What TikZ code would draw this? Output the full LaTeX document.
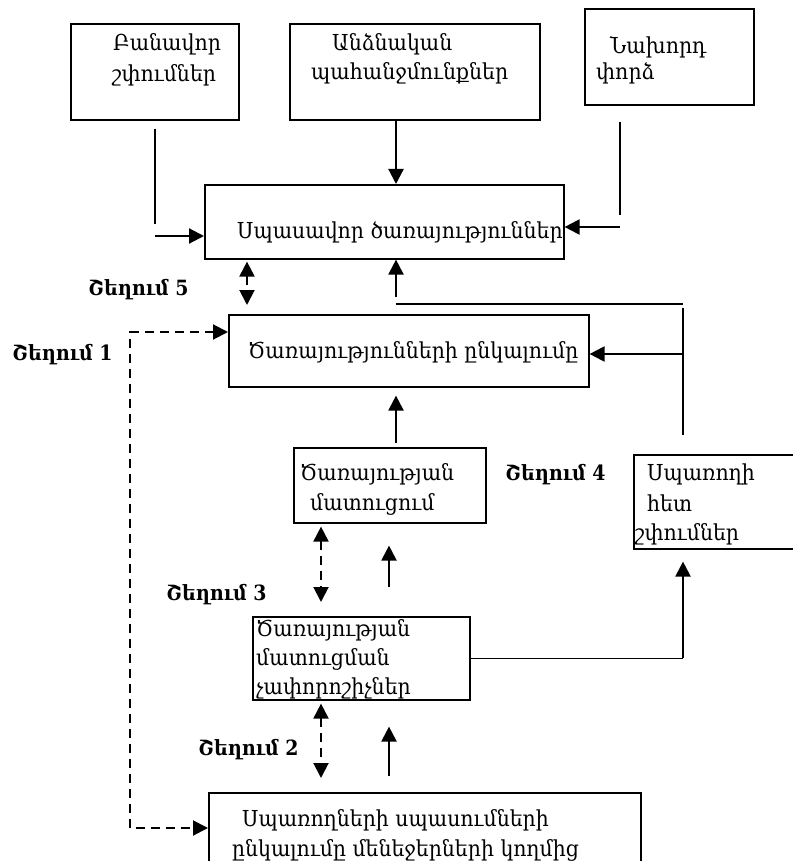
\documentclass[tikz,border=0pt]{standalone}
\usepackage{fontspec}
\setmainfont{DejaVu Serif}[FakeStretch=0.93]
\newfontfamily\lblfont{DejaVu Serif Condensed}
\usetikzlibrary{arrows.meta,calc}

\tikzset{
  box/.style={draw, line width=1.6pt, inner sep=0pt, anchor=north west},
  txt/.style={anchor=base west, inner sep=0pt, font=\fontsize{22}{26}\selectfont},
  lbl/.style={anchor=base west, inner sep=0pt, font=\lblfont\bfseries\fontsize{21}{25}\selectfont},
  link/.style={line width=1.6pt},
  thick link/.style={line width=2.2pt},
  arr/.style={line width=2.2pt, -{Triangle[length=15pt,width=15pt]}},
  darr/.style={line width=2pt, dash pattern=on 9pt off 6pt,
    {Triangle[length=15pt,width=15pt]}-{Triangle[length=15pt,width=15pt]}},
}

\begin{document}
\begin{tikzpicture}[x=1pt,y=-1pt]
\useasboundingbox (0,0) rectangle (792,861);

% ---- boxes ----
\node[box, minimum width=168pt, minimum height=96pt] (A) at (70,23) {};
\node[box, minimum width=250pt, minimum height=96pt] (B) at (289,23) {};
\node[box, minimum width=169pt, minimum height=96pt] (C) at (584,8) {};
\node[box, minimum width=359pt, minimum height=74pt] (D) at (204,184) {};
\node[box, minimum width=360pt, minimum height=72pt] (E) at (228,314) {};
\node[box, minimum width=192pt, minimum height=75pt] (F) at (293,447) {};
\node[box, minimum width=170pt, minimum height=94pt] (G) at (633,454) {};
\node[box, minimum width=217pt, minimum height=83pt] (H) at (252,616) {};
\node[box, minimum width=432pt, minimum height=80pt] (I) at (208,792) {};

% ---- box texts ----
\node[txt] (a1) at (113,51) {Բանավոր};
\node[txt] (a2) at (112,82) {շփումներ};
\node[txt] (b1) at (332,51) {Անձնական};
\node[txt] (b2) at (311,80) {պահանջմունքներ};
\node[txt] (c1) at (610,54) {Նախորդ};
\node[txt] (c2) at (596,80) {փորձ};
\node[txt] (d1) at (237,238) {Սպասավոր ծառայություններ};
\node[txt] (e1) at (248,358) {Ծառայությունների ընկալումը};
\node[txt] (f1) at (300,480) {Ծառայության};
\node[txt] (f2) at (310,510) {մատուցում};
\node[txt] (g1) at (647,480) {Սպառողի};
\node[txt] (g2) at (647,511) {հետ};
\node[txt] (g3) at (635,540) {շփումներ};
\node[txt] (h1) at (256,636) {Ծառայության};
\node[txt] (h2) at (256,665) {մատուցման};
\node[txt] (h3) at (256,694) {չափորոշիչներ};
\node[txt] (i1) at (242,826) {Սպառողների սպասումների};
\node[txt] (i2) at (232,856) {ընկալումը մենեջերների կողմից};

% ---- deviation labels ----
\node[lbl] (s5) at (88,295) {Շեղում 5};
\node[lbl] (s1) at (12,360) {Շեղում 1};
\node[lbl] (s4) at (505,480) {Շեղում 4};
\node[lbl] (s3) at (166,600) {Շեղում 3};
\node[lbl] (s2) at (198,755) {Շեղում 2};

% ---- guide columns and rows ----
\coordinate (xA) at (155,0);
\coordinate (xC) at (620,0);
\coordinate (xM) at (396,0);
\coordinate (xR) at (683,0);
\coordinate (x5) at (247,0);
\coordinate (x1) at (130,0);
\coordinate (x3) at (321,0);
\coordinate (xU) at (389,0);
\coordinate (yA) at (0,236);
\coordinate (yC) at (0,227);
\coordinate (yBus) at (0,304);
\coordinate (yE) at (0,354);
\coordinate (yL) at (0,332);
\coordinate (yI) at (0,828);

% ---- inputs to the expected-service box ----
\draw[link] ($(A.south -| xA)+(0,8)$) -- ($(xA |- yA)+(0,-12)$);
\draw[arr] (xA |- yA) -- (D.west |- yA);
\draw[arr] (B.south -| xM) -- (D.north -| xM);
\draw[link] ($(C.south -| xC)+(0,16)$) -- ($(xC |- yC)+(0,-12)$);
\draw[arr] (xC |- yC) -- (D.east |- yC);

% ---- customer communications feedback ----
\draw[link] ($(G.north -| xR)+(0,-19)$) -- ($(xR |- yBus)+(0,4)$);
\draw[thick link] (xR |- yBus) -- (xM |- yBus);
\draw[arr] ($(xM |- yBus)+(0,-7)$) -- (D.south -| xM);
\draw[arr] (xR |- yE) -- (E.east |- yE);

% ---- gaps ----
\draw[darr] ($(D.south -| x5)+(0,2)$) -- ($(E.north -| x5)+(0,-9)$);
\draw[darr] (E.west |- yL) -| (x1 |- yI) -- (I.west |- yI);
\draw[darr] ($(F.south -| x3)+(0,3)$) -- ($(H.north -| x3)+(0,-14)$);
\draw[darr] ($(H.south -| x3)+(0,3)$) -- ($(I.north -| x3)+(0,-14)$);

% ---- upward flow ----
\draw[arr] ($(F.north -| xM)+(0,-4)$) -- ($(E.south -| xM)+(0,8)$);
\draw[arr] ($(H.north -| xU)+(0,-29)$) -- ($(F.south -| xU)+(0,22)$);
\draw[arr] ($(I.north -| xU)+(0,-16)$) -- ($(H.south -| xU)+(0,26)$);
\draw[link] (H.east) -- (H.east -| xR);
\draw[arr] (H.east -| xR) -- ($(G.south -| xR)+(0,12)$);
\end{tikzpicture}
\end{document}
